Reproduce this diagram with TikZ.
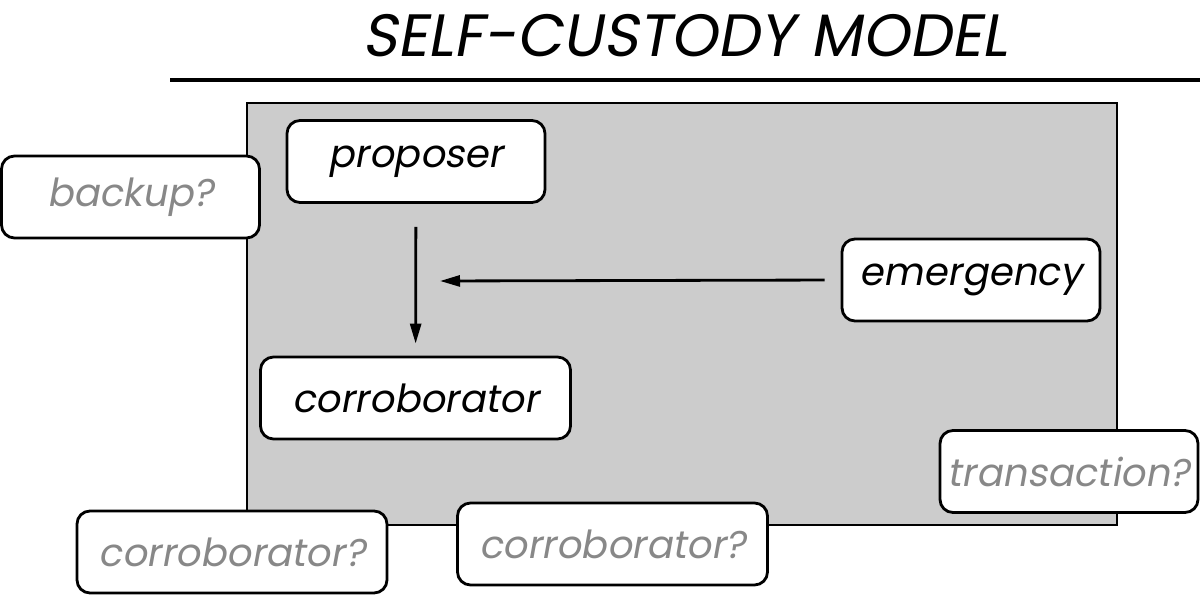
\documentclass[tikz,border=0pt]{standalone}
\usepackage{fontspec}
\setmainfont{Poppins}
\newfontfamily\slantfont{Poppins}[FakeSlant=0.18]
\usepackage{tikz}
\usetikzlibrary{arrows.meta,positioning}
\definecolor{boxgray}{RGB}{204,204,204}
\definecolor{askgray}{RGB}{136,136,136}

\begin{document}
\begin{tikzpicture}
[x=0.1mm,y=-0.1mm,
 b/.style={draw,line width=0.8pt,fill=white,rounded corners=1.3mm,minimum width=2.58cm,minimum height=0.82cm,inner sep=0pt,font=\slantfont\fontsize{11}{13}\selectfont},
 q/.style={b,text=askgray},
 w/.style={minimum width=3.1cm},
 a/.style={line width=0.8pt,-{Triangle[length=2mm,width=1.1mm]}}]
\useasboundingbox (0,0) rectangle (1200,595);
\node[font=\slantfont\fontsize{17}{20}\selectfont] (title) at (685,36) {SELF-CUSTODY MODEL};
\coordinate (l1) at (170,80);
\coordinate (l2) at (1200,80);
\draw[line width=1pt] (l1) -- (l2);
\draw[line width=0.8pt,fill=boxgray] (247,103) rectangle (1117,525);
\node[b] (proposer) at (416,161.5) {proposer};
\node[q] (backup) at (130.5,197) {backup?};
\node[b] (emergency) at (971,280) {emergency};
\node[b,w] (corroborator) at (415.5,398) {corroborator};
\node[q] (transaction) at (1069,471.5) {transaction?};
\node[q,w] (corrob1) at (232,552) {corroborator?};
\node[q,w] (corrob2) at (612.5,544) {corroborator?};
\coordinate (join) at (440,281);
\draw[a,shorten <=2.3mm,shorten >=1.2mm] (proposer) -- (corroborator);
\draw[a,shorten <=1.6mm] (emergency.west) -- (join);
\end{tikzpicture}
\end{document}
